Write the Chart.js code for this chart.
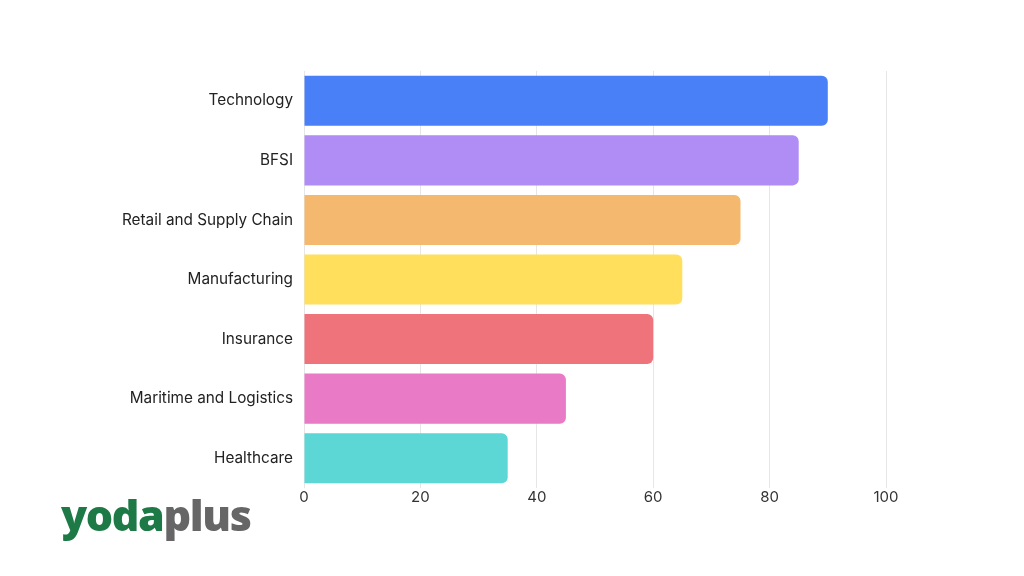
<!DOCTYPE html>
<html><head><meta charset="utf-8">
<script src="https://cdn.jsdelivr.net/npm/chart.js@4"></script>
<style>
html,body{margin:0;padding:0;background:#fff;}
#wrap{position:relative;width:1024px;height:576px;}
#logo{position:absolute;left:61px;top:491px;font-family:"Open Sans",sans-serif;font-weight:800;font-size:43px;letter-spacing:-1.4px;line-height:48px;}
#logo .a{color:#1d7a47;} #logo .b{color:#666;}
</style></head>
<body><div id="wrap"><canvas id="c" width="1024" height="576"></canvas>
<div id="logo"><span class="a">yoda</span><span class="b">plus</span></div></div>
<script>
const categories = ["Technology","BFSI","Retail and Supply Chain","Manufacturing","Insurance","Maritime and Logistics","Healthcare"];
const values = [90,85,75,65,60,45,35];
const barColors = ["#4a80f7","#af8df4","#f4b96f","#ffdf5c","#ef737b","#e97ac6","#5dd6d6"];
const xTicks = [0,20,40,60,80,100];

new Chart(document.getElementById('c'), {
  type: 'bar',
  data: { labels: categories, datasets: [{ data: values, backgroundColor: barColors, borderRadius: 6, borderSkipped: 'start', barPercentage: 0.84, categoryPercentage: 1 }] },
  options: {
    indexAxis: 'y', responsive: false, animation: false,
    layout: { padding: { top: 71, right: 138, bottom: 0, left: 0 } },
    plugins: { legend: { display: false }, tooltip: { enabled: false } },
    scales: {
      x: { min: 0, max: 100, afterBuildTicks: s => { s.ticks = xTicks.map(v => ({ value: v })); },
        afterFit: s => { s.height = 88; },
        grid: { color: '#e6e6e6', drawTicks: false }, border: { display: false },
        ticks: { padding: 0, color: '#333', font: { family: 'Inter', size: 15 } } },
      y: { afterFit: s => { s.width = 304; },
        grid: { display: false, drawTicks: false }, border: { display: false },
        ticks: { padding: 11, color: '#222', font: { family: 'Inter', size: 15.3 } } }
    }
  }
});
</script></body></html>
